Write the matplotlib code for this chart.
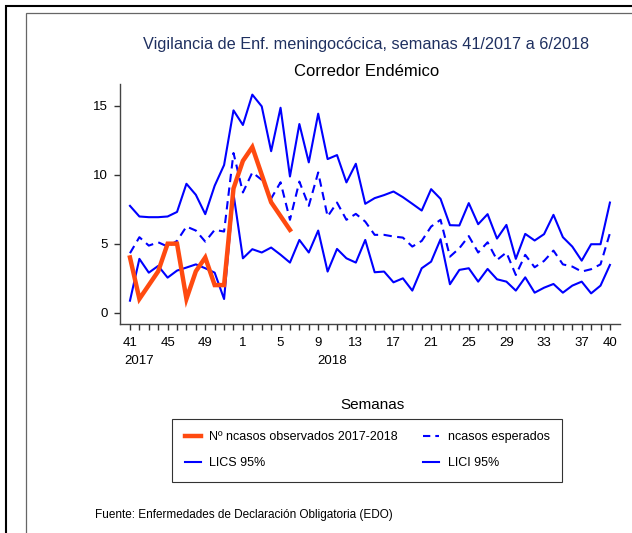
import matplotlib
matplotlib.use('Agg')
import matplotlib.pyplot as plt
import matplotlib.patches as mpatches
import matplotlib.transforms as mtransforms
from matplotlib.lines import Line2D

plt.rcParams['font.family'] = ['Liberation Sans', 'DejaVu Sans']

#-------------------------------
# Data
weeks = list(range(41, 53)) + list(range(1, 41))     # 41/2017 ... 40/2018
years = ['2017', '2018']

observados = [4, 1, 2, 3, 5, 5, 1, 3, 4, 2, 2, 9, 11, 12, 10, 8, 7, 6]

lics = [7.74, 6.97, 6.92, 6.92, 6.97, 7.3, 9.34, 8.54, 7.14, 9.2, 10.7, 14.66,
        13.6, 15.8, 14.95, 11.7, 14.85, 9.87, 13.67, 10.89, 14.42, 11.13, 11.42,
        9.44, 10.79, 7.89, 8.3, 8.52, 8.78, 8.37, 7.89, 7.4, 8.95, 8.25, 6.34,
        6.32, 7.94, 6.41, 7.14, 5.37, 6.36, 3.9, 5.71, 5.23, 5.69, 7.09, 5.47,
        4.79, 3.77, 4.96, 4.96, 7.98]

esperados = [4.31, 5.47, 4.86, 5.1, 4.79, 5.2, 6.24, 5.95, 5.15, 6.0, 5.88, 11.57,
             8.71, 10.16, 9.63, 8.27, 9.45, 6.73, 9.5, 7.74, 10.16, 6.97, 7.98,
             6.73, 7.16, 6.6, 5.64, 5.64, 5.52, 5.44, 4.79, 5.2, 6.24, 6.73, 4.06,
             4.67, 5.55, 4.36, 5.1, 3.82, 4.36, 2.73, 4.19, 3.29, 3.75, 4.5, 3.5,
             3.34, 2.98, 3.15, 3.5, 5.76]

lici = [0.87, 3.9, 2.9, 3.39, 2.54, 3.05, 3.27, 3.5, 3.22, 2.9, 0.99, 8.61,
        3.94, 4.6, 4.36, 4.72, 4.2, 3.63, 5.27, 4.36, 5.95, 2.98, 4.62, 3.94,
        3.63, 5.27, 2.93, 2.98, 2.2, 2.49, 1.6, 3.22, 3.7, 5.32, 2.06, 3.1,
        3.22, 2.25, 3.17, 2.42, 2.25, 1.6, 2.56, 1.45, 1.81, 2.08, 1.45, 1.96,
        2.25, 1.4, 1.96, 3.46]

#-------------------------------
W, H = 632, 533
fig = plt.figure(figsize=(W / 100, H / 100), dpi=100)
ax = fig.add_axes([120 / W, 1 - 324 / H, 500 / W, 240 / H])

x_all = list(range(len(weeks)))
x_obs = list(range(len(observados)))

BLUE = '#0000ff'
ORANGE = '#ff4a10'

ax.plot(x_all, lics, color=BLUE, lw=1.5)
ax.plot(x_all, lici, color=BLUE, lw=1.5)
ax.plot(x_all, esperados, color=BLUE, lw=1.5, dashes=(4, 2.6))
ax.plot(x_obs, observados, color=ORANGE, lw=3.2, solid_joinstyle='miter')

ax.set_xlim(-1.06, 52.07)
ax.set_ylim(-0.82, 16.57)

# ticks: one per week, labels every 4 weeks plus the last one
ax.set_xticks(x_all)
xlabels = [str(w) if (i % 4 == 0 or i == len(weeks) - 1) else '' for i, w in enumerate(weeks)]
ax.set_xticklabels(xlabels)
ax.set_yticks([0, 5, 10, 15])
ax.tick_params(axis='both', length=4, width=1, color='#333333', labelsize=9.5)
ax.tick_params(axis='x', pad=5)
ax.tick_params(axis='y', pad=5)

for s in ['top', 'right']:
    ax.spines[s].set_visible(False)
for s in ['left', 'bottom']:
    ax.spines[s].set_color('#444444')
    ax.spines[s].set_linewidth(1)

# year labels under the week labels
trans = mtransforms.blended_transform_factory(ax.transData, ax.transAxes)
ax.text(-0.55, -0.155, years[0], transform=trans, ha='left', va='center', fontsize=9.5)
ax.text(19.95, -0.155, years[1], transform=trans, ha='left', va='center', fontsize=9.5)

# titles
fig.text(366.5 / W, 1 - 45 / H, 'Vigilancia de Enf. meningocócica, semanas 41/2017 a 6/2018',
         ha='center', va='center', fontsize=11.7, color='#1f3060')
fig.text(366.5 / W, 1 - 72 / H, 'Corredor Endémico', ha='center', va='center',
         fontsize=12, color='black')

# x axis title placed above the legend
fig.text(372.5 / W, 1 - 405 / H, 'Semanas', ha='center', va='center', fontsize=11)

handles = [Line2D([], [], color=ORANGE, lw=3.2),
           Line2D([], [], color=BLUE, lw=1.5),
           Line2D([], [], color=BLUE, lw=1.5, dashes=(3.5, 2.4)),
           Line2D([], [], color=BLUE, lw=1.5)]
labels = ['Nº ncasos observados 2017-2018', 'LICS 95%', 'ncasos esperados', 'LICI 95%']
leg = fig.legend(handles, labels, ncol=2, loc='upper left', mode='expand',
                 bbox_to_anchor=(172 / W, 1 - 418.5 / H, 390 / W, 0),
                 fontsize=9, frameon=True, fancybox=False, edgecolor='black',
                 handlelength=1.3, handletextpad=0.65, labelspacing=1.14,
                 borderpad=1.0, borderaxespad=0)
leg.get_frame().set_linewidth(0.8)

fig.text(95 / W, 1 - 515 / H, 'Fuente: Enfermedades de Declaración Obligatoria (EDO)',
         ha='left', va='center', fontsize=8.5)

# outer frames (cut off at right and bottom)
fig.patches.append(mpatches.Rectangle((6 / W, -0.2), 1.2, 1.2 - 6 / H, fill=False,
                                      edgecolor='black', lw=1.5,
                                      transform=fig.transFigure, figure=fig))
fig.patches.append(mpatches.Rectangle((25.5 / W, -0.2), 1.2, 1.2 - 12.7 / H, fill=False,
                                      edgecolor='#666666', lw=0.9,
                                      transform=fig.transFigure, figure=fig))

fig.savefig('out.png', dpi=100)
